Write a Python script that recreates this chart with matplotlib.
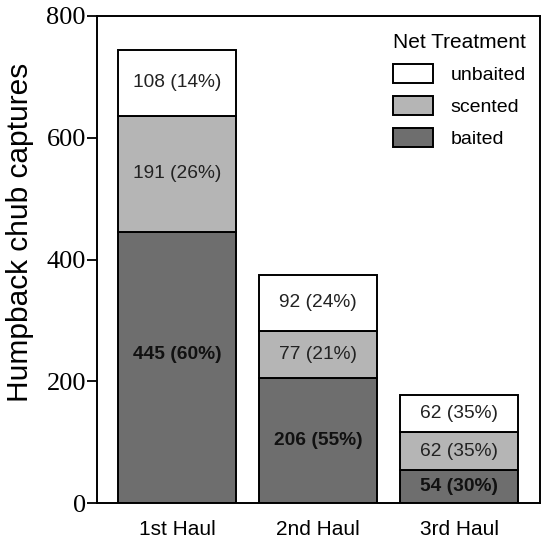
import matplotlib.pyplot as plt
import numpy as np

hauls = ['1st Haul', '2nd Haul', '3rd Haul']
baited = [445, 206, 54]
scented = [191, 77, 62]
unbaited = [108, 92, 62]
baited_pct = [60, 55, 30]
scented_pct = [26, 21, 35]
unbaited_pct = [14, 24, 35]

plt.rcParams['font.family'] = ['Liberation Sans', 'DejaVu Sans']

fig = plt.figure(figsize=(5.43, 5.41), dpi=100)
ax = fig.add_axes([97 / 543, 1 - 503 / 541, (540 - 97) / 543, (503 - 16) / 541])

x = np.arange(len(hauls))
w = 0.84
kw = dict(width=w, edgecolor='black', linewidth=1.4)
b1 = ax.bar(x, baited, color='#6e6e6e', label='baited', **kw)
b2 = ax.bar(x, scented, bottom=baited, color='#b5b5b5', label='scented', **kw)
bot3 = np.array(baited) + np.array(scented)
b3 = ax.bar(x, unbaited, bottom=bot3, color='white', label='unbaited', **kw)

for i in range(len(hauls)):
    yb = baited[i] / 2
    if i == 0:
        yb = baited[i] * 0.55
    ax.text(x[i], yb, f'{baited[i]} ({baited_pct[i]}%)', ha='center', va='center',
            fontsize=13.8, fontweight='bold', color='#111111')
    ax.text(x[i], baited[i] + scented[i] / 2, f'{scented[i]} ({scented_pct[i]}%)',
            ha='center', va='center', fontsize=13.8, color='#222222')
    ax.text(x[i], bot3[i] + unbaited[i] / 2, f'{unbaited[i]} ({unbaited_pct[i]}%)',
            ha='center', va='center', fontsize=13.8, color='#222222')

ax.set_xlim(-0.567, 2.574)
ax.set_ylim(0, 800)
ax.set_yticks([0, 200, 400, 600, 800])
ax.set_xticks(x)
ax.set_xticklabels(hauls, fontsize=15)
ax.tick_params(axis='x', length=0, pad=12)
ax.tick_params(axis='y', length=7, width=1.3, pad=1)
for lab in ax.get_yticklabels():
    lab.set_fontfamily('Liberation Serif')
    lab.set_fontsize(19)
for s in ax.spines.values():
    s.set_linewidth(1.4)

ax.set_ylabel('Humpback chub captures', fontsize=21.5)
ax.yaxis.set_label_coords(-0.142, 0.556)

leg = ax.legend(handles=[b3, b2, b1], title='Net Treatment', loc='upper right',
                bbox_to_anchor=(1.008, 1.002), frameon=False, fontsize=14,
                title_fontsize=15, handlelength=2.06, handleheight=1.12,
                labelspacing=0.63, handletextpad=0.9)

fig.savefig('out.png', dpi=100)
